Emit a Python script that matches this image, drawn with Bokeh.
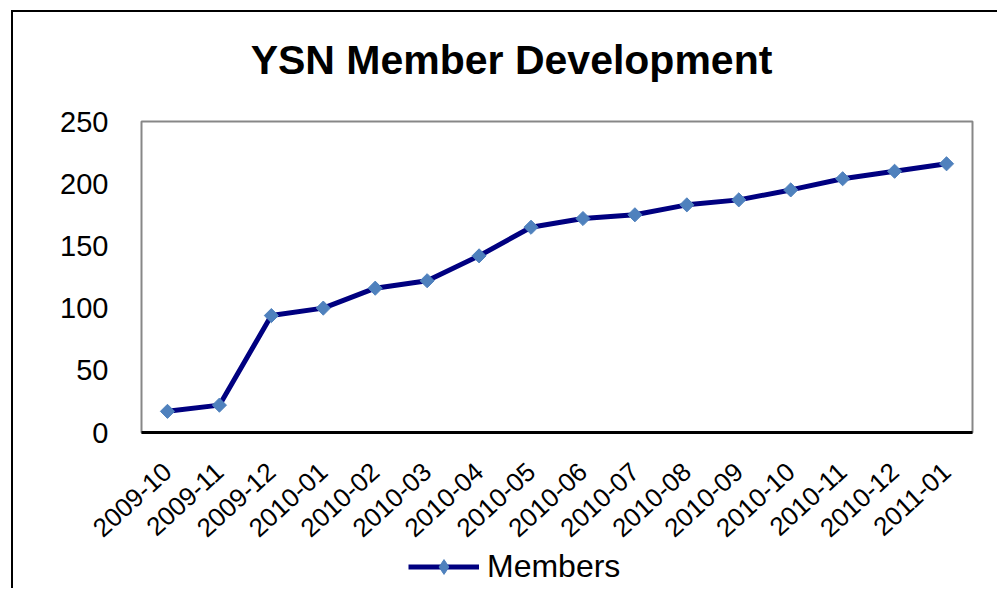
import math
from bokeh.plotting import figure
from bokeh.layouts import column
from bokeh.models import FactorRange, Range1d, FixedTicker, Legend, LegendItem, Label
from bokeh.embed import file_html
from bokeh.resources import INLINE

# ---- data ----
months = ["2009-10", "2009-11", "2009-12", "2010-01", "2010-02", "2010-03",
          "2010-04", "2010-05", "2010-06", "2010-07", "2010-08", "2010-09",
          "2010-10", "2010-11", "2010-12", "2011-01"]
members = [17, 22, 94, 100, 116, 122, 142, 165, 172, 175, 183, 187, 195, 204, 210, 216]
y_ticks = [0, 50, 100, 150, 200, 250]
title_text = "YSN Member Development"
series_name = "Members"

FONT = "Liberation Sans"
LINE_COLOR = "#000080"
MARK_COLOR = "#4F81BD"
W = 984
T_H = 88

# ---- title strip ----
t = figure(width=W, height=T_H, x_range=Range1d(0, 831), y_range=Range1d(0, T_H),
           x_axis_type=None, y_axis_type=None,
           output_backend="svg", toolbar_location=None, min_border=0)
t.outline_line_color = None
t.background_fill_color = "white"
t.border_fill_color = "white"
t.xgrid.grid_line_color = None
t.ygrid.grid_line_color = None
t.add_layout(Label(x=370, y=41, text=title_text, text_align="center",
                   text_baseline="middle", text_font=FONT,
                   text_font_size="41px", text_font_style="bold",
                   text_color="black"))

# ---- main chart ----
p = figure(width=W, height=536 - T_H,
           x_range=FactorRange(*months, range_padding=0),
           y_range=Range1d(0, 250),
           output_backend="svg", toolbar_location=None,
           min_border_left=128, min_border_top=21,
           min_border_right=25, min_border_bottom=115)

p.background_fill_color = "white"
p.border_fill_color = "white"
p.outline_line_color = "#878787"
p.outline_line_width = 2

p.xgrid.grid_line_color = None
p.ygrid.grid_line_color = None

p.xaxis.axis_line_color = "black"
p.xaxis.axis_line_width = 3
p.xaxis.major_tick_line_color = None
p.xaxis.minor_tick_line_color = None
p.xaxis.major_tick_out = 0
p.xaxis.major_tick_in = 0
p.xaxis.major_label_orientation = 0.74
p.xaxis.major_label_standoff = 35
p.xaxis.major_label_text_font = FONT
p.xaxis.major_label_text_font_size = "26px"
p.xaxis.major_label_text_color = "black"

p.yaxis.ticker = FixedTicker(ticks=y_ticks)
p.yaxis.axis_line_color = None
p.yaxis.major_tick_line_color = None
p.yaxis.minor_tick_line_color = None
p.yaxis.major_tick_out = 0
p.yaxis.major_tick_in = 0
p.yaxis.major_label_standoff = 33
p.yaxis.major_label_text_font = FONT
p.yaxis.major_label_text_font_size = "29px"
p.yaxis.major_label_text_color = "black"

p.line(months, members, line_color=LINE_COLOR, line_width=5)
p.scatter(months, members, marker="square", size=10, angle=math.pi / 4,
          fill_color=MARK_COLOR, line_color=MARK_COLOR)

# ---- legend strip (same series, plotted out of view; only the legend shows) ----
q = figure(width=W, height=40,
           x_range=FactorRange(*months, range_padding=0),
           y_range=Range1d(1000, 1001),
           x_axis_type=None, y_axis_type=None,
           output_backend="svg", toolbar_location=None, min_border=0)
q.outline_line_color = None
q.background_fill_color = "white"
q.border_fill_color = "white"
q.xgrid.grid_line_color = None
q.ygrid.grid_line_color = None
lr = q.line(months, members, line_color=LINE_COLOR, line_width=5)
mr = q.scatter(months, members, marker="diamond", size=15,
               fill_color=MARK_COLOR, line_color=MARK_COLOR)

legend = Legend(items=[LegendItem(label=series_name, renderers=[lr, mr])],
                location=(267, 3))
legend.background_fill_alpha = 0
legend.border_line_color = None
legend.padding = 0
legend.margin = 0
legend.spacing = 0
legend.glyph_width = 71
legend.glyph_height = 37
legend.label_standoff = 8
legend.label_text_font = FONT
legend.label_text_font_size = "32px"
legend.label_text_color = "black"
q.add_layout(legend)

layout = column(t, p, q, spacing=0)
layout.styles = {"border-left": "2px solid black", "border-top": "2px solid black",
                 "margin-left": "11px", "margin-top": "10px"}

open("out.html", "w").write(file_html(layout, INLINE))
